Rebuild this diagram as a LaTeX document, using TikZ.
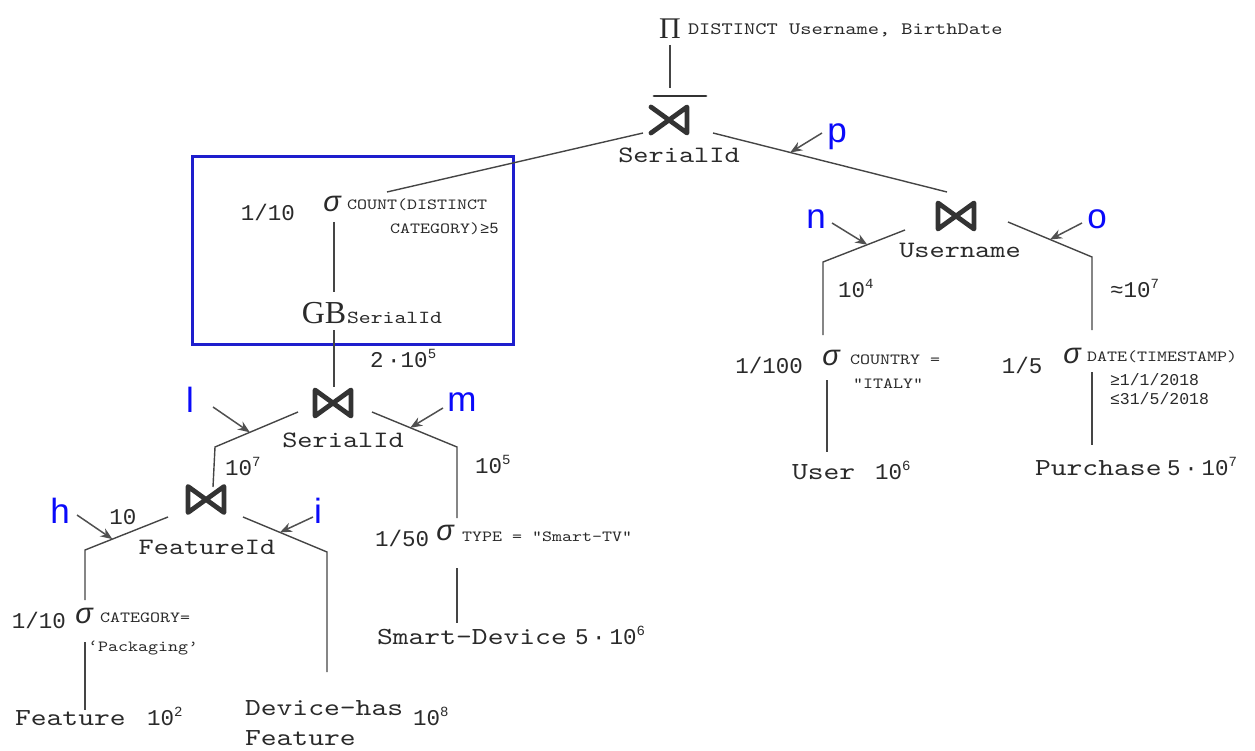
\documentclass[tikz,border=0pt]{standalone}
\usepackage{fontspec}
\usetikzlibrary{arrows.meta}
\newfontfamily\courf{lmmono10-regular.otf}[FakeStretch=1.23]
\newfontfamily\numf{Liberation Mono}
\newfontfamily\tagf{Liberation Sans}
\newfontfamily\serf{Liberation Serif}
\definecolor{edgegray}{HTML}{454545}
\definecolor{symgray}{HTML}{333333}
\definecolor{ptrgray}{HTML}{505050}
\definecolor{inkgray}{HTML}{2A2A2A}
\definecolor{tagblue}{RGB}{10,10,250}
\definecolor{boxblue}{RGB}{30,30,205}
\newcommand\sups[1]{\raisebox{0.42em}{\fontsize{14}{14}\selectfont #1}}
\tikzset{
  lbl/.style={inner sep=0pt, outer sep=0pt, text=inkgray},
  rel/.style={lbl, font=\courf\fontsize{24.5}{25}\selectfont, anchor=west},
  attr/.style={lbl, font=\courf\fontsize{23.5}{24}\selectfont},
  cond/.style={lbl, font=\courf\fontsize{15.5}{16}\selectfont, anchor=west},
  condnum/.style={lbl, font=\numf\fontsize{16.5}{17}\selectfont, anchor=west},
  card/.style={lbl, font=\numf\fontsize{22.5}{23}\selectfont},
  sel/.style={lbl, font=\tagf\itshape\fontsize{29}{29}\selectfont},
  tag/.style={lbl, font=\tagf\fontsize{35}{35}\selectfont, text=tagblue},
  joinbox/.style={lbl, minimum width=36pt, minimum height=26pt},
  sym/.style={draw=symgray, line width=4.8pt, line join=round, line cap=round},
  edge/.style={draw=edgegray, line width=1.4pt},
  ptr/.style={draw=ptrgray, line width=1.5pt, -{Stealth[length=12pt,width=9.5pt]}},
}
\begin{document}
\begin{tikzpicture}[x=1pt,y=-1pt]
\useasboundingbox (0,0) rectangle (1255,751);

% ---- projection and top semi-join ----
\node[lbl, font=\serf\fontsize{30}{30}\selectfont] (pi) at (670,29) {Π};
\node[cond, font=\courf\fontsize{17.4}{18}\selectfont] (pitxt) at (688,30) {DISTINCT Username, BirthDate};
\node[joinbox] (sj) at (669,120) {};
\node[attr] (sjlab) at (679,155) {SerialId};
\node[tag] (tp) at (837,136.5) {p};

% ---- grouped selection over group-by ----
\node[lbl, draw=boxblue, line width=3pt, minimum width=321pt, minimum height=187pt] (grp) at (352.5,250.5) {};
\node[sel] (sg1) at (332,204) {σ};
\node[card] (sg1f) at (268,212) {1/10};
\node[cond] (sg1c) at (347,205) {COUNT(DISTINCT};
\node[cond] (sg1d) at (390,229) {CATEGORY){\numf ≥5}};
\node[lbl, font=\serf\fontsize{32}{32}\selectfont] (gb) at (324,313) {GB};
\node[cond, font=\courf\fontsize{18.4}{19}\selectfont] (gbsub) at (347,318) {SerialId};
\node[card, anchor=base west] (j1f) at (370,367.5) {2\,·10\sups{5}};

% ---- join on SerialId ----
\node[joinbox] (j1) at (333,403) {};
\node[attr] (j1lab) at (343,440) {SerialId};
\node[tag] (tl) at (190,400) {l};
\node[tag] (tm) at (462,402) {m};
\node[card, anchor=base west] (j1lf) at (225,475.5) {10\sups{7}};
\node[card, anchor=base west] (j1rf) at (475,473.5) {10\sups{5}};

% ---- join on FeatureId ----
\node[joinbox] (fj) at (206,499.5) {};
\node[attr] (fjlab) at (207,547) {FeatureId};
\node[card] (fjlf) at (123,517) {10};
\node[tag] (th) at (60,511) {h};
\node[tag] (ti) at (318,511) {i};

\node[sel] (sg4) at (84,616) {σ};
\node[card] (sg4f) at (39,620) {1/10};
\node[cond] (sg4c) at (100,618) {CATEGORY=};
\node[cond] (sg4d) at (88,648) {‘Packaging’};
\node[rel] (feat) at (15,718) {Feature};
\node[card, anchor=base west] (featn) at (147,725.5) {10\sups{2}};
\node[rel, align=left, font=\courf\fontsize{24.5}{30}\selectfont] (dh) at (245,723) {Device-has\\Feature};
\node[card, anchor=base west] (dhn) at (413,725.5) {10\sups{8}};

\node[sel] (sg5) at (445,533) {σ};
\node[card] (sg5f) at (402,538) {1/50};
\node[cond] (sg5c) at (462,537) {TYPE = “Smart-TV”};
\node[rel] (sd) at (377,637) {Smart-Device};
\node[card, anchor=base west] (sdn) at (575,644.5) {5\,·\,10\sups{6}};

% ---- join on Username ----
\node[joinbox] (ju) at (956,216) {};
\node[attr] (julab) at (960,250) {Username};
\node[tag] (tn) at (816,219) {n};
\node[tag] (to) at (1097,219) {o};
\node[card, anchor=base west] (julf) at (838,297.5) {10\sups{4}};
\node[card, anchor=base west] (jurf) at (1110,297.5) {≈10\sups{7}};

\node[sel] (sg2) at (831,358) {σ};
\node[card] (sg2f) at (769,365) {1/100};
\node[cond] (sg2c) at (850,360) {COUNTRY =};
\node[cond] (sg2d) at (853,384) {“ITALY”};
\node[rel] (user) at (792,472) {User};
\node[card, anchor=base west] (usern) at (875,479.5) {10\sups{6}};

\node[sel] (sg3) at (1072,356) {σ};
\node[card] (sg3f) at (1022,365) {1/5};
\node[cond] (sg3c) at (1087,357) {DATE(TIMESTAMP)};
\node[condnum] (sg3d) at (1110,380) {≥1/1/2018};
\node[condnum] (sg3e) at (1110,399) {≤31/5/2018};
\node[rel] (pur) at (1035,468) {Purchase};
\node[card, anchor=base west] (purn) at (1167,475.5) {5\,·\,10\sups{7}};

% ---- operator symbols ----
\draw[sym] (sj.north west) -- (sj.south east) -- (sj.north east) -- (sj.south west);
\draw[sym, line width=2.8pt] ([shift={(-15,-24)}]sj.center) -- ([shift={(37,-24)}]sj.center);
\foreach \j in {j1,fj,ju}
  \draw[sym] (\j.north west) -- (\j.south east) -- (\j.north east) -- (\j.south west) -- cycle;

% ---- tree edges ----
\draw[edge] ([shift={(0,16)}]pi.center) -- ([shift={(1,-32)}]sj.center);
\draw[edge] ([shift={(-26,13)}]sj.center) -- ([shift={(55,-12)}]sg1.center);
\draw[edge] ([shift={(44,13)}]sj.center) -- coordinate[pos=0.33] (ptip) ([shift={(-9,-24)}]ju.center);
\draw[edge] ([shift={(2,18)}]sg1.center) -- ([shift={(10,-21)}]gb.center);
\draw[edge] ([shift={(10,17)}]gb.center) -- ([shift={(1,-16)}]j1.center);
\draw[edge] ([shift={(-35,9)}]j1.center) -- coordinate[pos=0.58] (ltip) (215,447) -- ([shift={(7,-12.5)}]fj.center);
\draw[edge] ([shift={(39,9)}]j1.center) -- coordinate[pos=0.45] (mtip) (457,447) -- ([shift={(12,-15)}]sg5.center);
\draw[edge] ([shift={(12,35)}]sg5.center) -- ([shift={(80,-14)}]sd.west);
\draw[edge] ([shift={(-38,17.5)}]fj.center) -- coordinate[pos=0.67] (htip) (85,550) -- ([shift={(1,-16)}]sg4.center);
\draw[edge] ([shift={(37,17.5)}]fj.center) -- coordinate[pos=0.44] (itip) (327,552) -- ([shift={(82,-51)}]dh.west);
\draw[edge] ([shift={(1,26)}]sg4.center) -- ([shift={(70,-8)}]feat.west);
\draw[edge] ([shift={(-51,14)}]ju.center) -- coordinate[pos=0.46] (ntip) (823,262) -- ([shift={(-8,-23)}]sg2.center);
\draw[edge] ([shift={(-4,22)}]sg2.center) -- ([shift={(35,-20)}]user.west);
\draw[edge] ([shift={(52,6)}]ju.center) -- coordinate[pos=0.5] (otip) (1092,257) -- ([shift={(20,-26)}]sg3.center);
\draw[edge] ([shift={(20,16)}]sg3.center) -- ([shift={(57,-23)}]pur.west);

% ---- tag pointers ----
\draw[ptr] ([shift={(-15,-3.5)}]tp.center) -- (ptip);
\draw[ptr] ([shift={(23,7)}]tl.center) -- (ltip);
\draw[ptr] ([shift={(-19,6)}]tm.center) -- (mtip);
\draw[ptr] ([shift={(17,4)}]th.center) -- (htip);
\draw[ptr] ([shift={(-5,6)}]ti.center) -- (itip);
\draw[ptr] ([shift={(16,4)}]tn.center) -- (ntip);
\draw[ptr] ([shift={(-15,4)}]to.center) -- (otip);
\end{tikzpicture}
\end{document}
